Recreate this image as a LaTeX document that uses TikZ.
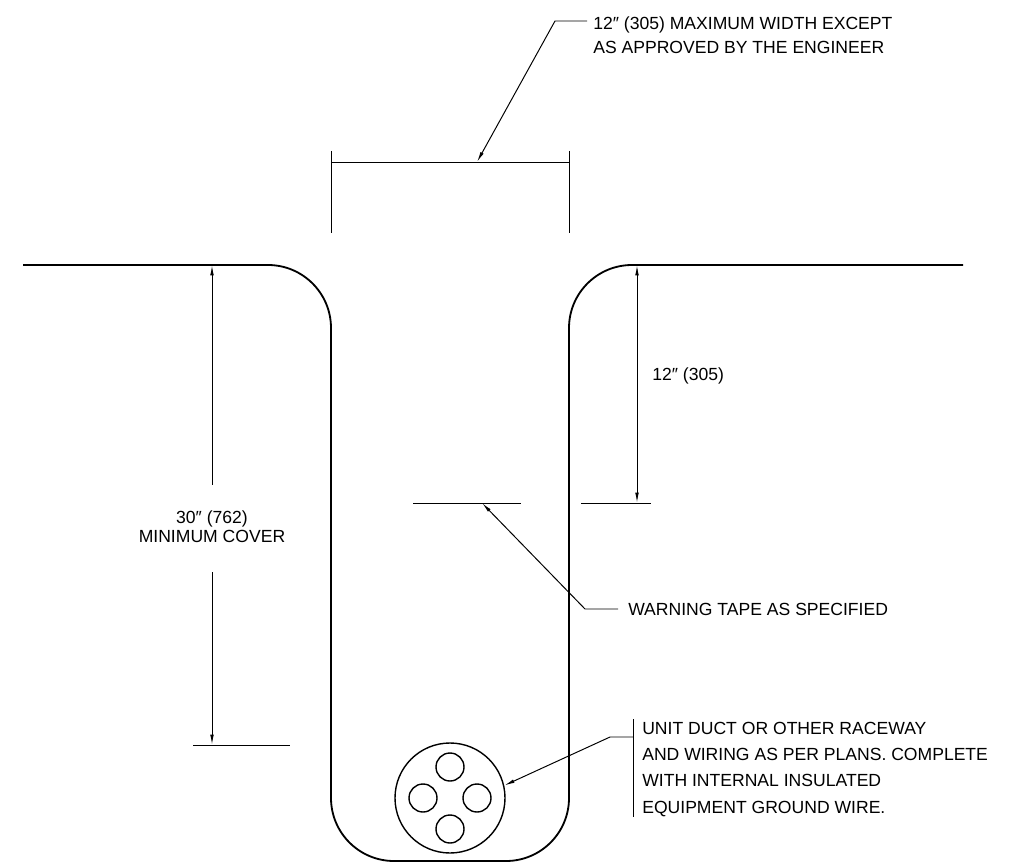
\documentclass[tikz,border=0pt]{standalone}
\usepackage{fontspec}
\setmainfont{Liberation Sans}
\usetikzlibrary{arrows.meta}

\tikzset{
  ground/.style={line width=1.3pt},
  dim/.style={line width=0.7pt, >={Latex[length=2.6mm,width=0.9mm]}},
  leader/.style={line width=0.7pt, -{Latex[length=2.6mm,width=0.9mm]}},
  pipe/.style={draw, circle, inner sep=0pt, line width=1pt},
  note/.style={font=\fontsize{12.5}{17}\selectfont, inner sep=0pt, align=left},
}

\begin{document}
\begin{tikzpicture}[x=0.25mm, y=-0.25mm]
\useasboundingbox (0,0) rectangle (1019,863);
\draw[ground, rounded corners=15.75mm] (23,265) -- (331,265) -- (331,861) -- (569,861) -- (569,265) -- (963,265);

\draw[dim] (331,151) -- (331,233) (569,151) -- (569,233) (331,162) -- (569,162);
\coordinate (wtip) at (477,162);
\coordinate (wknee) at (555,21);
\node[note, anchor=north west] (maxw) at (593,16.5) {12″ (305) MAXIMUM WIDTH EXCEPT\\AS APPROVED BY THE ENGINEER};
\draw[leader] ([xshift=-1.5mm]maxw.west |- wknee) -- (wknee) -- (wtip);

\coordinate (ctop) at (212,265);
\coordinate (cbot) at (212,745);
\node[note, align=center, font=\fontsize{12.5}{13.5}\selectfont] (cover) at (212,527) {30″ (762)\\MINIMUM COVER};
\draw[dim,->] (cover.north) ++(0,-26) -- (ctop);
\draw[dim,->] (cover.south) ++(0,29) -- (cbot);
\draw[dim] (193,745) -- (290,745);

\draw[dim,<->] (637,265) -- (637,503);
\draw[dim] (581,503) -- (651,503);
\node[note, anchor=west] (depth) at (652,376) {12″ (305)};

\draw[dim] (413,503) -- (521,503);
\coordinate (ttip) at (482,503);
\coordinate (tknee) at (585,609);
\node[note, anchor=west] (tape) at (628,609) {WARNING TAPE AS SPECIFIED};
\draw[leader] ([xshift=-2.5mm]tape.west) -- (tknee) -- (ttip);

\node[pipe, minimum size=27.5mm] (duct) at (450,798) {};
\foreach \dx/\dy [count=\i] in {0/-31, -27/0, 27/0, 0/31}
  \node[pipe, minimum size=7mm] (wire\i) at ([shift={(\dx,\dy)}]duct.center) {};
\coordinate (dknee) at (610,737);
\node[note, anchor=north west, font=\fontsize{12.5}{18.7}\selectfont] (ductnote) at (642,721.7) {UNIT DUCT OR OTHER RACEWAY\\AND WIRING AS PER PLANS. COMPLETE\\WITH INTERNAL INSULATED\\EQUIPMENT GROUND WIRE.};
\draw[dim] (633,719) -- (633,817);
\draw[leader] (633,737) -- (dknee) -- (duct.13);
\end{tikzpicture}
\end{document}
